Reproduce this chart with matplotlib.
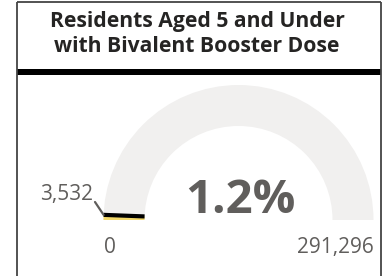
import numpy as np
import matplotlib
matplotlib.use("Agg")
import matplotlib.pyplot as plt
from matplotlib.patches import Wedge, Rectangle

# Gauge data
title_lines = ["Residents Aged 5 and Under", "with Bivalent Booster Dose"]
min_value = 0
max_value = 291296
value = 3532

W, H = 385, 276
plt.rcParams['font.family'] = ['Open Sans', 'DejaVu Sans']


def Y(py):
    # pixel row (top-down) -> axes y (bottom-up)
    return H - py


fig = plt.figure(figsize=(W / 100, H / 100), dpi=100)
ax = fig.add_axes([0, 0, 1, 1])
ax.set_xlim(0, W)
ax.set_ylim(0, H)
ax.axis('off')

# card frame
ax.plot([17, 17], [Y(2), Y(276)], color='#444444', lw=1.3, solid_capstyle='butt')
ax.plot([381, 381], [Y(2), Y(276)], color='#444444', lw=1.3, solid_capstyle='butt')
ax.plot([17, 381], [Y(2), Y(2)], color='#444444', lw=1.3, solid_capstyle='butt')
ax.add_patch(Rectangle((17, Y(75)), 364, 6, color='black', lw=0))

# title
ax.text(197, Y(27), title_lines[0], ha='center', va='baseline',
        fontsize=15.2, fontweight='bold', color='#252423')
ax.text(197, Y(52), title_lines[1], ha='center', va='baseline',
        fontsize=15.2, fontweight='bold', color='#252423')

# gauge
cx, cy = 238.5, Y(220)
r_out, r_in = 135, 94
frac = (value - min_value) / (max_value - min_value)
ang = 180 * (1 - frac)

ax.add_patch(Wedge((cx, cy), r_out, 0, 180, width=r_out - r_in,
                   facecolor='#F1F0EF', edgecolor='none'))
ax.add_patch(Wedge((cx, cy), r_out, ang, 180, width=r_out - r_in,
                   facecolor='#F3D86A', edgecolor='none'))

# target / value marker
t = np.deg2rad(ang)
ax.plot([cx + r_in * np.cos(t), cx + r_out * np.cos(t)],
        [cy + r_in * np.sin(t), cy + r_out * np.sin(t)],
        color='black', lw=3, solid_capstyle='butt')

# leader line and value label
lx, ly = cx + r_out * np.cos(t), cy + r_out * np.sin(t)
ax.plot([95, lx], [Y(202), ly], color='#605E5C', lw=1.6, solid_capstyle='round')
ax.text(93, Y(200), f"{value:,}", ha='right', va='baseline',
        fontsize=15, color='#605E5C')

# min / max labels
ax.text(110, Y(253), f"{min_value:,}", ha='center', va='baseline',
        fontsize=15, color='#605E5C')
ax.text(374, Y(253), f"{max_value:,}", ha='right', va='baseline',
        fontsize=15, color='#605E5C')

# callout
ax.text(240, Y(213), f"{frac * 100:.1f}%", ha='center', va='baseline',
        fontsize=34, fontweight='bold', color='#605E5C')

fig.savefig('out.png', dpi=100)
